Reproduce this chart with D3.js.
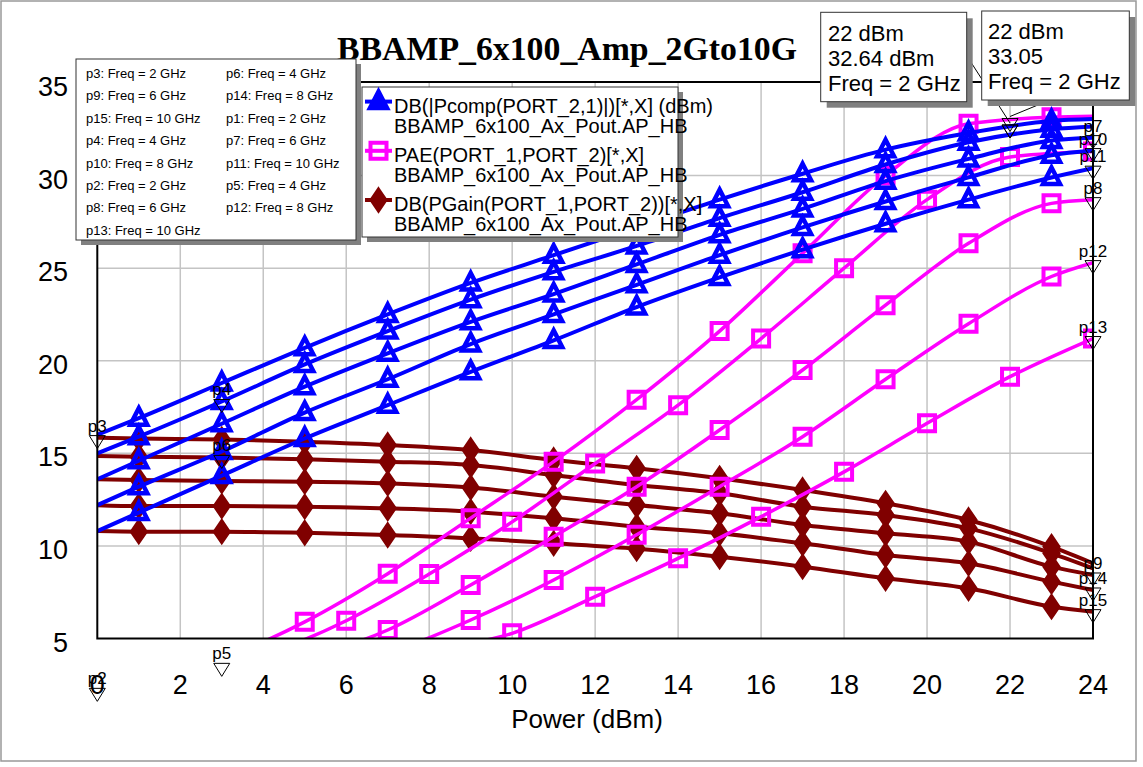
<!DOCTYPE html>
<html>
<head>
<meta charset="utf-8">
<script src="https://cdn.jsdelivr.net/npm/d3@7"></script>
<style>
  body { margin: 0; background: #fff; }
  text { font-family: "Liberation Sans", Arial, sans-serif; }
</style>
</head>
<body>
<div id="chart"></div>
<script>
// swept input power (dBm); odd-step sweeps carry markers on odd points
var powerOdd  = [0, 1, 3, 5, 7, 9, 11, 13, 15, 17, 19, 21, 23, 24];
var powerEven = [0, 2, 4, 6, 8, 10, 12, 14, 16, 18, 20, 22, 24];
var freqs = ["2 GHz", "4 GHz", "6 GHz", "8 GHz", "10 GHz"];

// DB(|Pcomp(PORT_2,1)|) (dBm), one row per frequency, on powerOdd
var pcomp = [
  [16.0, 16.9, 18.8, 20.7, 22.5, 24.2, 25.7, 27.2, 28.7, 30.1, 31.4, 32.3, 32.95, 33.05],
  [15.0, 15.9, 17.8, 19.8, 21.6, 23.3, 24.8, 26.2, 27.7, 29.1, 30.6, 31.8, 32.5, 32.65],
  [13.6, 14.6, 16.6, 18.6, 20.4, 22.1, 23.6, 25.2, 26.8, 28.2, 29.7, 30.9, 31.9, 32.05],
  [12.2, 13.2, 15.1, 17.2, 19.0, 20.9, 22.5, 24.1, 25.7, 27.2, 28.6, 29.9, 31.1, 31.35],
  [10.8, 11.8, 13.8, 15.8, 17.6, 19.4, 21.1, 22.9, 24.5, 26.0, 27.4, 28.7, 29.9, 30.4]
];

// DB(PGain(PORT_1,PORT_2)), on powerOdd
var gain = [
  [15.85, 15.8, 15.75, 15.63, 15.45, 15.18, 14.64, 14.19, 13.65, 13.02, 12.3, 11.4, 9.96, 9.06],
  [14.85, 14.82, 14.78, 14.68, 14.55, 14.37, 13.83, 13.29, 12.84, 12.12, 11.67, 10.95, 9.6, 8.79],
  [13.6, 13.56, 13.5, 13.47, 13.38, 13.16, 12.66, 12.21, 11.76, 11.13, 10.68, 10.23, 8.88, 8.43],
  [12.2, 12.15, 12.15, 12.12, 12.03, 11.85, 11.49, 11.04, 10.68, 10.14, 9.51, 9.06, 8.07, 7.62],
  [10.8, 10.77, 10.77, 10.71, 10.59, 10.41, 10.14, 9.85, 9.42, 8.88, 8.25, 7.71, 6.72, 6.45]
];

// PAE(PORT_1,PORT_2) (%), sweeps alternate between odd and even points
var paeSweep = [powerOdd, powerEven, powerOdd, powerOdd, powerEven];
var pae = [
  [2.2, 2.6, 3.9, 5.9, 8.5, 11.5, 14.55, 17.9, 21.6, 25.8, 30.0, 32.8, 33.15, 33.2],
  [2.0, 3.0, 4.1, 5.96, 8.48, 11.3, 14.45, 17.6, 21.2, 25.0, 28.7, 31.0, 31.3],
  [2.0, 2.3, 2.9, 3.9, 5.46, 7.89, 10.5, 13.2, 16.26, 19.5, 23.0, 26.34, 28.5, 28.7],
  [1.6, 1.8, 2.3, 3.1, 4.2, 6.0, 8.16, 10.6, 13.2, 15.9, 19.0, 22.0, 24.55, 25.3],
  [1.5, 1.9, 2.5, 3.2, 4.3, 5.28, 7.26, 9.33, 11.58, 14.0, 16.62, 19.14, 21.2]
];

var xTicks = [0, 2, 4, 6, 8, 10, 12, 14, 16, 18, 20, 22, 24];
var yTicks = [5, 10, 15, 20, 25, 30, 35];

// markers: name, measurement, frequency index, power, show label
var markerList = [
  ["p3", "gain", 0, 0, true], ["p6", "gain", 1, 3, true], ["p9", "gain", 2, 24, true],
  ["p14", "gain", 3, 24, true], ["p15", "gain", 4, 24, true],
  ["p1", "pcomp", 0, 22, false], ["p4", "pcomp", 1, 3, true], ["p7", "pcomp", 2, 24, true],
  ["p10", "pcomp", 3, 24, true], ["p11", "pcomp", 4, 24, true],
  ["p2", "pae", 0, 0, true], ["p5", "pae", 1, 3, true], ["p8", "pae", 2, 24, true],
  ["p12", "pae", 3, 24, true], ["p13", "pae", 4, 24, true]
];

var annotations = [
  {meas: "pcomp", f: 0, x: 22, lines: ["22 dBm", "32.64 dBm", "Freq = 2 GHz"]},
  {meas: "pae", f: 0, x: 22, lines: ["22 dBm", "33.05", "Freq = 2 GHz"]}
];

var legendNames = [
  ["DB(|Pcomp(PORT_2,1)|)[*,X] (dBm)", "BBAMP_6x100_Ax_Pout.AP_HB"],
  ["PAE(PORT_1,PORT_2)[*,X]", "BBAMP_6x100_Ax_Pout.AP_HB"],
  ["DB(PGain(PORT_1,PORT_2))[*,X]", "BBAMP_6x100_Ax_Pout.AP_HB"]
];

var W = 1143, H = 767;
var plot = {left: 97.3, right: 1093, top: 82, bottom: 638.5};

var svg = d3.select("#chart")
  .append("svg")
    .attr("width", W)
    .attr("height", H);

svg.append("rect")
  .attr("x", 1).attr("y", 1).attr("width", 1135).attr("height", 760)
  .attr("fill", "#fff").attr("stroke", "#999").attr("stroke-width", 1.5);

var x = d3.scaleLinear().domain([0, 24]).range([plot.left, plot.right]);
var y = d3.scaleLinear().domain([5, 35]).range([plot.bottom, 83]);

// title (legend box overlaps its first letter)
svg.append("text")
  .attr("x", 337).attr("y", 60)
  .attr("textLength", 460)
  .attr("lengthAdjust", "spacingAndGlyphs")
  .style("font-family", "'Liberation Serif', 'Times New Roman', serif")
  .style("font-weight", "bold")
  .style("font-size", "34px")
  .text("BBAMP_6x100_Amp_2Gto10G");

// grid
var grid = svg.append("g").attr("stroke", "#c4c4c4").attr("stroke-width", 1.5);
grid.selectAll("line.v")
  .data(xTicks.filter(function(d) { return d > 0 && d < 24; }))
  .enter().append("line")
    .attr("x1", function(d) { return x(d); }).attr("x2", function(d) { return x(d); })
    .attr("y1", plot.top).attr("y2", plot.bottom);
grid.selectAll("line.h")
  .data(yTicks.filter(function(d) { return d > 5 && d < 35; }))
  .enter().append("line")
    .attr("x1", plot.left).attr("x2", plot.right)
    .attr("y1", function(d) { return y(d); }).attr("y2", function(d) { return y(d); });

svg.append("clipPath").attr("id", "clip")
  .append("rect")
    .attr("x", plot.left).attr("y", plot.top)
    .attr("width", plot.right - plot.left).attr("height", plot.bottom - plot.top);

var line = d3.line()
  .x(function(d) { return x(d[0]); })
  .y(function(d) { return y(d[1]); })
  .curve(d3.curveMonotoneX);

function pointsOf(xs, ys) {
  return xs.map(function(v, i) { return [v, ys[i]]; });
}

var triPath = "M0,-10L8.5,6.5L-8.5,6.5Z";
var sqPath = "M-8,-8H8V8H-8Z";
var diaPath = "M0,-11L7.5,0L0,11L-7.5,0Z";

var measures = {
  gain:  {color: "#800000", width: 4, path: diaPath, fill: "#800000", sw: 3,
          sweep: function() { return powerOdd; }, data: gain},
  pae:   {color: "#ff00ff", width: 3.5, path: sqPath, fill: "none", sw: 4,
          sweep: function(f) { return paeSweep[f]; }, data: pae},
  pcomp: {color: "#0000ff", width: 4, path: triPath, fill: "none", sw: 4.5,
          sweep: function() { return powerOdd; }, data: pcomp}
};

var curves = svg.append("g").attr("clip-path", "url(#clip)");

["gain", "pae", "pcomp"].forEach(function(key) {
  var m = measures[key];
  m.data.forEach(function(ys, f) {
    var xs = m.sweep(f);
    var pts = pointsOf(xs, ys);
    var oddSweep = xs.length === powerOdd.length;
    curves.append("path")
      .attr("d", line(pts))
      .attr("fill", "none")
      .attr("stroke", m.color)
      .attr("stroke-width", m.width)
      .attr("stroke-linejoin", "round");
    curves.selectAll(null)
      .data(pts.filter(function(p) { return !oddSweep || p[0] % 2 === 1; }))
      .enter().append("path")
        .attr("d", m.path)
        .attr("transform", function(p) { return "translate(" + x(p[0]) + "," + y(p[1]) + ")"; })
        .attr("fill", m.fill)
        .attr("stroke", m.color)
        .attr("stroke-width", m.sw)
        .attr("stroke-linejoin", "miter");
  });
});

// plot frame
svg.append("rect")
  .attr("x", plot.left).attr("y", plot.top)
  .attr("width", plot.right - plot.left).attr("height", plot.bottom - plot.top)
  .attr("fill", "none").attr("stroke", "#000").attr("stroke-width", 2);

// axis labels
svg.selectAll("text.xt")
  .data(xTicks)
  .enter().append("text")
    .attr("x", function(d) { return x(d); })
    .attr("y", plot.bottom + 55)
    .attr("text-anchor", "middle")
    .style("font-size", "27px")
    .text(function(d) { return d; });

svg.selectAll("text.yt")
  .data(yTicks)
  .enter().append("text")
    .attr("x", 68)
    .attr("y", function(d) { return y(d) + 13; })
    .attr("text-anchor", "end")
    .style("font-size", "27px")
    .text(function(d) { return d; });

svg.append("text")
  .attr("x", 587).attr("y", 728)
  .attr("text-anchor", "middle")
  .style("font-size", "26px")
  .text("Power (dBm)");

// value of a measured curve at a given power (for marker placement)
function valueAt(meas, f, p) {
  var m = measures[meas];
  var xs = m.sweep(f), ys = m.data[f];
  for (var i = 0; i < xs.length - 1; i++) {
    if (p >= xs[i] && p <= xs[i + 1]) {
      var t = (p - xs[i]) / (xs[i + 1] - xs[i]);
      return ys[i] + t * (ys[i + 1] - ys[i]);
    }
  }
  return ys[ys.length - 1];
}

function drawMarker(g, px, py) {
  var top = py - 2;
  g.append("path")
    .attr("d", "M" + (px - 8) + "," + top + "L" + (px + 8) + "," + top + "L" + px + "," + (top + 13) + "Z")
    .attr("fill", "none")
    .attr("stroke", "#000")
    .attr("stroke-width", 1);
}

var mk = svg.append("g");
markerList.forEach(function(m) {
  var px = x(m[3]), py = y(valueAt(m[1], m[2], m[3]));
  drawMarker(mk, px, py);
  if (m[4]) {
    mk.append("text")
      .attr("x", px).attr("y", py - 6)
      .attr("text-anchor", "middle")
      .style("font-size", "17px")
      .text(m[0]);
  }
});

// marker legend
var lg1 = svg.append("g");
lg1.append("rect").attr("x", 81).attr("y", 64).attr("width", 280).attr("height", 181).attr("fill", "#808080");
lg1.append("rect").attr("x", 76).attr("y", 59).attr("width", 280).attr("height", 181)
  .attr("fill", "#fff").attr("stroke", "#333").attr("stroke-width", 1);
lg1.selectAll("text")
  .data(markerList)
  .enter().append("text")
    .attr("x", function(d, i) { return i % 2 === 0 ? 86 : 226; })
    .attr("y", function(d, i) { return 78 + Math.floor(i / 2) * 22.4; })
    .style("font-size", "13px")
    .text(function(d) { return d[0] + ": Freq = " + freqs[d[2]]; });

// trace legend
var lg2 = svg.append("g");
lg2.append("rect").attr("x", 367).attr("y", 92).attr("width", 316).attr("height", 150).attr("fill", "#808080");
lg2.append("rect").attr("x", 362).attr("y", 87).attr("width", 316).attr("height", 150)
  .attr("fill", "#fff").attr("stroke", "#333").attr("stroke-width", 1);
var legendKeys = ["pcomp", "pae", "gain"];
legendKeys.forEach(function(key, i) {
  var m = measures[key];
  var base = 112.6 + i * 49.2;
  var cy = base - 11;
  lg2.append("line")
    .attr("x1", 365).attr("x2", 392).attr("y1", cy).attr("y2", cy)
    .attr("stroke", m.color).attr("stroke-width", 4);
  lg2.append("path")
    .attr("d", m.path)
    .attr("transform", "translate(378.5," + cy + ")")
    .attr("fill", key === "pae" ? "none" : m.color)
    .attr("stroke", m.color)
    .attr("stroke-width", m.sw);
  legendNames[i].forEach(function(s, j) {
    lg2.append("text")
      .attr("x", 394).attr("y", base + j * 20)
      .style("font-size", "20px")
      .text(s);
  });
});

// annotation boxes with leader lines
var boxes = [
  {x: 820.7, y: 12.3, w: 146, h: 89.4, tx: 828, ty: 40.8, from: [966.7, 55.6]},
  {x: 981.7, y: 11, w: 147.6, h: 89, tx: 988, ty: 39, from: [1050, 100]}
];
var an = svg.append("g");
annotations.forEach(function(a, i) {
  var px = x(a.x), py = y(valueAt(a.meas, a.f, a.x));
  drawMarker(an, px, py);
  an.append("line")
    .attr("x1", boxes[i].from[0]).attr("y1", boxes[i].from[1])
    .attr("x2", px).attr("y2", py - 4)
    .attr("stroke", "#000").attr("stroke-width", 1);
});
annotations.forEach(function(a, i) {
  var b = boxes[i];
  an.append("rect").attr("x", b.x + 6).attr("y", b.y + 6).attr("width", b.w).attr("height", b.h).attr("fill", "#808080");
  an.append("rect").attr("x", b.x).attr("y", b.y).attr("width", b.w).attr("height", b.h)
    .attr("fill", "#fff").attr("stroke", "#333").attr("stroke-width", 1);
  a.lines.forEach(function(s, j) {
    an.append("text")
      .attr("x", b.tx).attr("y", b.ty + j * 25)
      .style("font-size", "22px")
      .text(s);
  });
});
</script>
</body>
</html>
